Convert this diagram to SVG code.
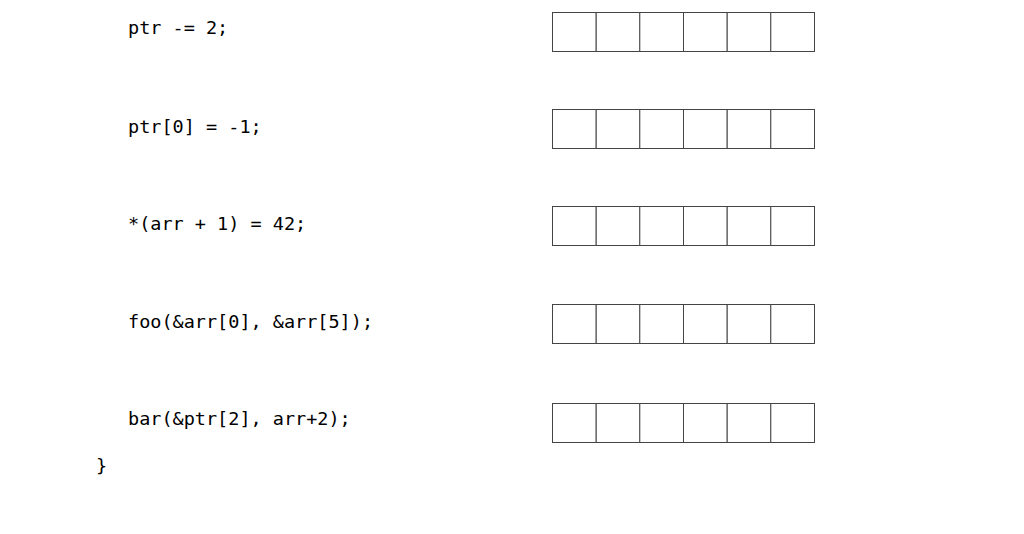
<svg xmlns="http://www.w3.org/2000/svg" width="1024" height="534" viewBox="0 0 1024 534">
<style>
text{font-family:"DejaVu Sans Mono","Liberation Mono",monospace;font-size:18.5px;fill:#000}
.c{fill:#fff;stroke:#444;stroke-width:1}
</style>
<defs>
<g id="arr">
<rect class="c" x="0" y="0" width="43.7" height="39"/>
<rect class="c" x="43.7" y="0" width="43.7" height="39"/>
<rect class="c" x="87.3" y="0" width="43.7" height="39"/>
<rect class="c" x="131" y="0" width="43.7" height="39"/>
<rect class="c" x="174.7" y="0" width="43.7" height="39"/>
<rect class="c" x="218.3" y="0" width="43.7" height="39"/>
</g>
</defs>
<rect width="1024" height="534" fill="#fff"/>
<g id="code">
<text x="128" y="34">ptr -= 2;</text>
<text x="128" y="133">ptr[0] = -1;</text>
<text x="128" y="230">*(arr + 1) = 42;</text>
<text x="128" y="328">foo(&amp;arr[0], &amp;arr[5]);</text>
<text x="128" y="425">bar(&amp;ptr[2], arr+2);</text>
<text x="96" y="472">}</text>
</g>
<g id="a1"><use href="#arr" x="552.5" y="12.5"/></g>
<g id="a2"><use href="#arr" x="552.5" y="109.5"/></g>
<g id="a3"><use href="#arr" x="552.5" y="206.5"/></g>
<g id="a4"><use href="#arr" x="552.5" y="304.5"/></g>
<g id="a5"><use href="#arr" x="552.5" y="403.5"/></g>
<g id="connectors"></g>
</svg>
